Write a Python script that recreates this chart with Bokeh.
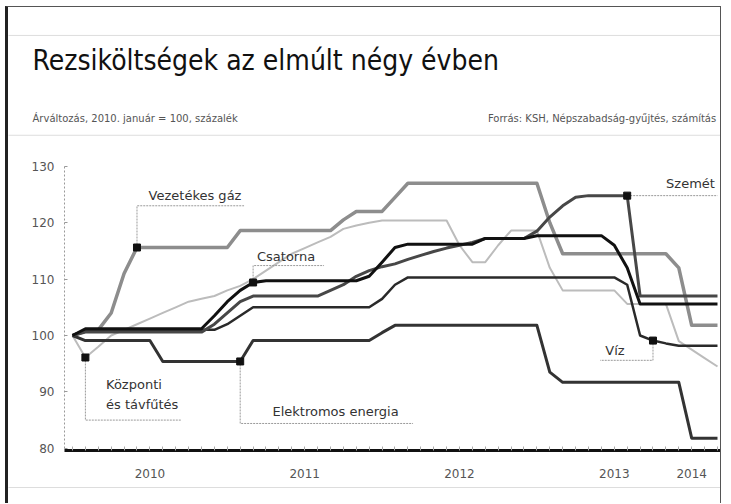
from bokeh.plotting import figure
from bokeh.models import FixedTicker, Span
from bokeh.core.properties import value
from bokeh.embed import file_html
from bokeh.resources import INLINE

# ---- data: monthly index, Jan 2010 = 0 ... Mar 2014 = 50 (2010. január = 100)
months = list(range(51))

gaz = [100, 100.8, 101, 104, 111,
       115.6, 115.6, 115.6, 115.6, 115.6, 115.6, 115.6, 115.6,
       118.6, 118.6, 118.6, 118.6, 118.6, 118.6, 118.6, 118.6,
       120.5, 122, 122, 122, 124.5,
       127, 127, 127, 127, 127, 127, 127, 127, 127, 127, 127,
       120, 114.5, 114.5, 114.5, 114.5, 114.5, 114.5, 114.5, 114.5, 114.5,
       112, 101.8, 101.8, 101.8]

elektromos = [100,
              99.1, 99.1, 99.1, 99.1, 99.1, 99.1,
              95.4, 95.4, 95.4, 95.4, 95.4, 95.4, 95.4,
              99.1, 99.1, 99.1, 99.1, 99.1, 99.1, 99.1, 99.1, 99.1, 99.1,
              100.5,
              101.8, 101.8, 101.8, 101.8, 101.8, 101.8, 101.8, 101.8, 101.8, 101.8, 101.8, 101.8,
              93.5,
              91.7, 91.7, 91.7, 91.7, 91.7, 91.7, 91.7, 91.7, 91.7, 91.7,
              81.8, 81.8, 81.8]

csatorna = [100,
            101.2, 101.2, 101.2, 101.2, 101.2, 101.2, 101.2, 101.2, 101.2, 101.2,
            103.5, 106, 108, 109.4,
            109.7, 109.7, 109.7, 109.7, 109.7, 109.7, 109.7, 109.7,
            110.5, 113, 115.6,
            116.2, 116.2, 116.2, 116.2, 116.2, 116.2,
            117.2, 117.2, 117.2, 117.2,
            117.7, 117.7, 117.7, 117.7, 117.7, 117.7,
            116, 112,
            105.6, 105.6, 105.6, 105.6, 105.6, 105.6, 105.6]

szemet = [100,
          100.6, 100.6, 100.6, 100.6, 100.6, 100.6, 100.6, 100.6, 100.6, 100.6,
          102, 104, 106,
          107, 107, 107, 107, 107, 107,
          108, 109, 110.5, 111.5, 112.2, 112.7,
          113.5, 114.2, 114.9, 115.5, 116, 116.5,
          117.2, 117.2, 117.2, 117.2,
          118.5, 121, 123, 124.5,
          124.8, 124.8, 124.8, 124.8,
          107, 107, 107, 107, 107, 107, 107]

viz = [100,
       101, 101, 101, 101, 101, 101, 101, 101, 101, 101, 101,
       102, 103.5,
       105, 105, 105, 105, 105, 105, 105, 105, 105, 105,
       106.5, 109,
       110.3, 110.3, 110.3, 110.3, 110.3, 110.3, 110.3, 110.3, 110.3, 110.3,
       110.3, 110.3, 110.3, 110.3, 110.3, 110.3, 110.3,
       109, 100, 99.1, 98.6,
       98.2, 98.2, 98.2, 98.2]

tavfutes = [100, 96.1, 98, 100, 101, 102, 103, 104, 105, 106, 106.5, 107,
            108, 108.8, 110, 111.5, 113, 114.5, 115.5, 116.5, 117.5, 118.9,
            119.5, 120,
            120.4, 120.4, 120.4, 120.4, 120.4, 120.4,
            116, 113, 113, 116,
            118.6, 118.6, 118.6,
            112,
            108, 108, 108, 108, 108,
            105.6, 105.6, 105.6, 105.6,
            99, 97.5, 96, 94.5]

year_ticks = [6, 18, 30, 42, 48]
year_labels = ["2010", "2011", "2012", "2013", "2014"]
y_ticks = [80, 90, 100, 110, 120, 130]

title = "Rezsiköltségek az elmúlt négy évben"
subtitle_left = "Árváltozás, 2010. január = 100, százalék"
subtitle_right = "Forrás: KSH, Népszabadság-gyűjtés, számítás"

# series: name, values, marker month, colour, width
series = [
    ("Központi és távfűtés", tavfutes, 1, "#bcbcbc", 2),
    ("Vezetékes gáz", gaz, 5, "#8d8d8d", 3.5),
    ("Víz", viz, 45, "#2a2a2a", 2.5),
    ("Elektromos energia", elektromos, 13, "#333333", 3),
    ("Szemét", szemet, 43, "#474747", 3),
    ("Csatorna", csatorna, 14, "#111111", 3),
]

# whole canvas is the frame; axes are placed at fixed locations inside it
X0, X1 = -4.961, 50.543
Y0, Y1 = 70.035, 158.156
p = figure(width=716, height=497, x_range=(X0, X1), y_range=(Y0, Y1),
           output_backend="svg", toolbar_location=None,
           min_border=0, min_border_left=0, min_border_right=0,
           min_border_top=0, min_border_bottom=0)
p.grid.visible = False
p.outline_line_color = None
p.background_fill_color = "white"
p.styles = {"margin-left": "5px", "margin-top": "6px",
            "border-left": "3px solid #222", "border-top": "1px solid #555",
            "border-right": "1px solid #555"}

lab_font = "DejaVu Sans"
title_font = "'DejaVu Sans Condensed', 'Liberation Sans Narrow', 'Roboto', sans-serif"

# y axis
p.yaxis.fixed_location = -0.62
p.yaxis.ticker = FixedTicker(ticks=y_ticks)
p.yaxis.bounds = (80, 130)
p.yaxis.axis_line_color = "#999999"
p.yaxis.axis_line_dash = "2 2"
p.yaxis.major_tick_in = 3
p.yaxis.major_tick_out = 0
p.yaxis.major_tick_line_color = "#999999"
p.yaxis.minor_tick_line_color = None
p.yaxis.major_label_text_font = lab_font
p.yaxis.major_label_text_font_size = "12px"
p.yaxis.major_label_text_color = "#555555"
p.yaxis.major_label_standoff = 10

# x axis
p.xaxis.fixed_location = 79.6
p.xaxis.bounds = (-0.62, 50.2)
p.xaxis.ticker = FixedTicker(ticks=year_ticks, minor_ticks=months)
p.xaxis.major_label_overrides = {t: l for t, l in zip(year_ticks, year_labels)}
p.xaxis.axis_line_color = "#111111"
p.xaxis.axis_line_width = 3
p.xaxis.major_tick_line_color = None
p.xaxis.minor_tick_in = 4
p.xaxis.minor_tick_out = 0
p.xaxis.minor_tick_line_color = "#aaaaaa"
p.xaxis.major_label_text_font = lab_font
p.xaxis.major_label_text_font_size = "12px"
p.xaxis.major_label_text_color = "#555555"
p.xaxis.major_label_standoff = 12

# header rules
for loc in (153.2, 135.5, 73.05):
    p.add_layout(Span(location=loc, dimension="width", line_color="#bbbbbb",
                      line_width=1, line_dash="1 1"))

for name, vals, mk, col, w in series:
    p.line(months, vals, line_color=col, line_width=w, line_join="round")

# markers on lines
mx = [s[2] for s in series]
my = [s[1][s[2]] for s in series]

# leader lines (dotted) : from marker to label
lead_col = "#9a9a9a"
gi = series[1]
p.line([gi[2], gi[2], 13.3], [gi[1][gi[2]], 123, 123], line_color=lead_col, line_width=1, line_dash="2 1")
ci = series[5]
p.line([ci[2], ci[2], 19.5], [ci[1][ci[2]], 112.4, 112.4], line_color=lead_col, line_width=1, line_dash="2 1")
si = series[4]
p.line([si[2], 50], [si[1][si[2]], si[1][si[2]]], line_color=lead_col, line_width=1, line_dash="2 1")
vi = series[2]
p.line([vi[2], vi[2], 40.9], [vi[1][vi[2]], 95.6, 95.6], line_color=lead_col, line_width=1, line_dash="2 1")
ei = series[3]
p.line([ei[2], ei[2], 26.4], [ei[1][ei[2]], 84.4, 84.4], line_color=lead_col, line_width=1, line_dash="2 1")
ti = series[0]
p.line([ti[2], ti[2], 8.4], [ti[1][ti[2]], 85, 85], line_color=lead_col, line_width=1, line_dash="2 1")

p.scatter(mx, my, marker="square", size=7, fill_color="#111111", line_color="#111111")

lbl_kw = dict(text_font=value(lab_font), text_font_size="13px", text_color="#333333",
              text_baseline="middle")
p.text(x=[5.9], y=[124.9], text=["Vezetékes gáz"], text_align="left", **lbl_kw)
p.text(x=[14.3], y=[114], text=["Csatorna"], text_align="left", **lbl_kw)
p.text(x=[49.8], y=[126.9], text=["Szemét"], text_align="right", **lbl_kw)
p.text(x=[41.3], y=[97.3], text=["Víz"], text_align="left", **lbl_kw)
p.text(x=[15.5], y=[86.6], text=["Elektromos energia"], text_align="left", **lbl_kw)
p.text(x=[2.6, 2.6], y=[91.3, 87.7], text=["Központi", "és távfűtés"], text_align="left", **lbl_kw)

# header texts
p.text(x=[-3.1], y=[148.76], text=[title], text_font=value(title_font),
       text_font_size="28px", text_color="#111111", text_baseline="middle", text_align="left")
p.text(x=[-3.1], y=[138.5], text=[subtitle_left], text_font=value(lab_font),
       text_font_size="10px", text_color="#555555", text_baseline="middle", text_align="left")
p.text(x=[49.9], y=[138.5], text=[subtitle_right], text_font=value(lab_font),
       text_font_size="10px", text_color="#555555", text_baseline="middle", text_align="right")

open("out.html", "w").write(file_html(p, INLINE))
